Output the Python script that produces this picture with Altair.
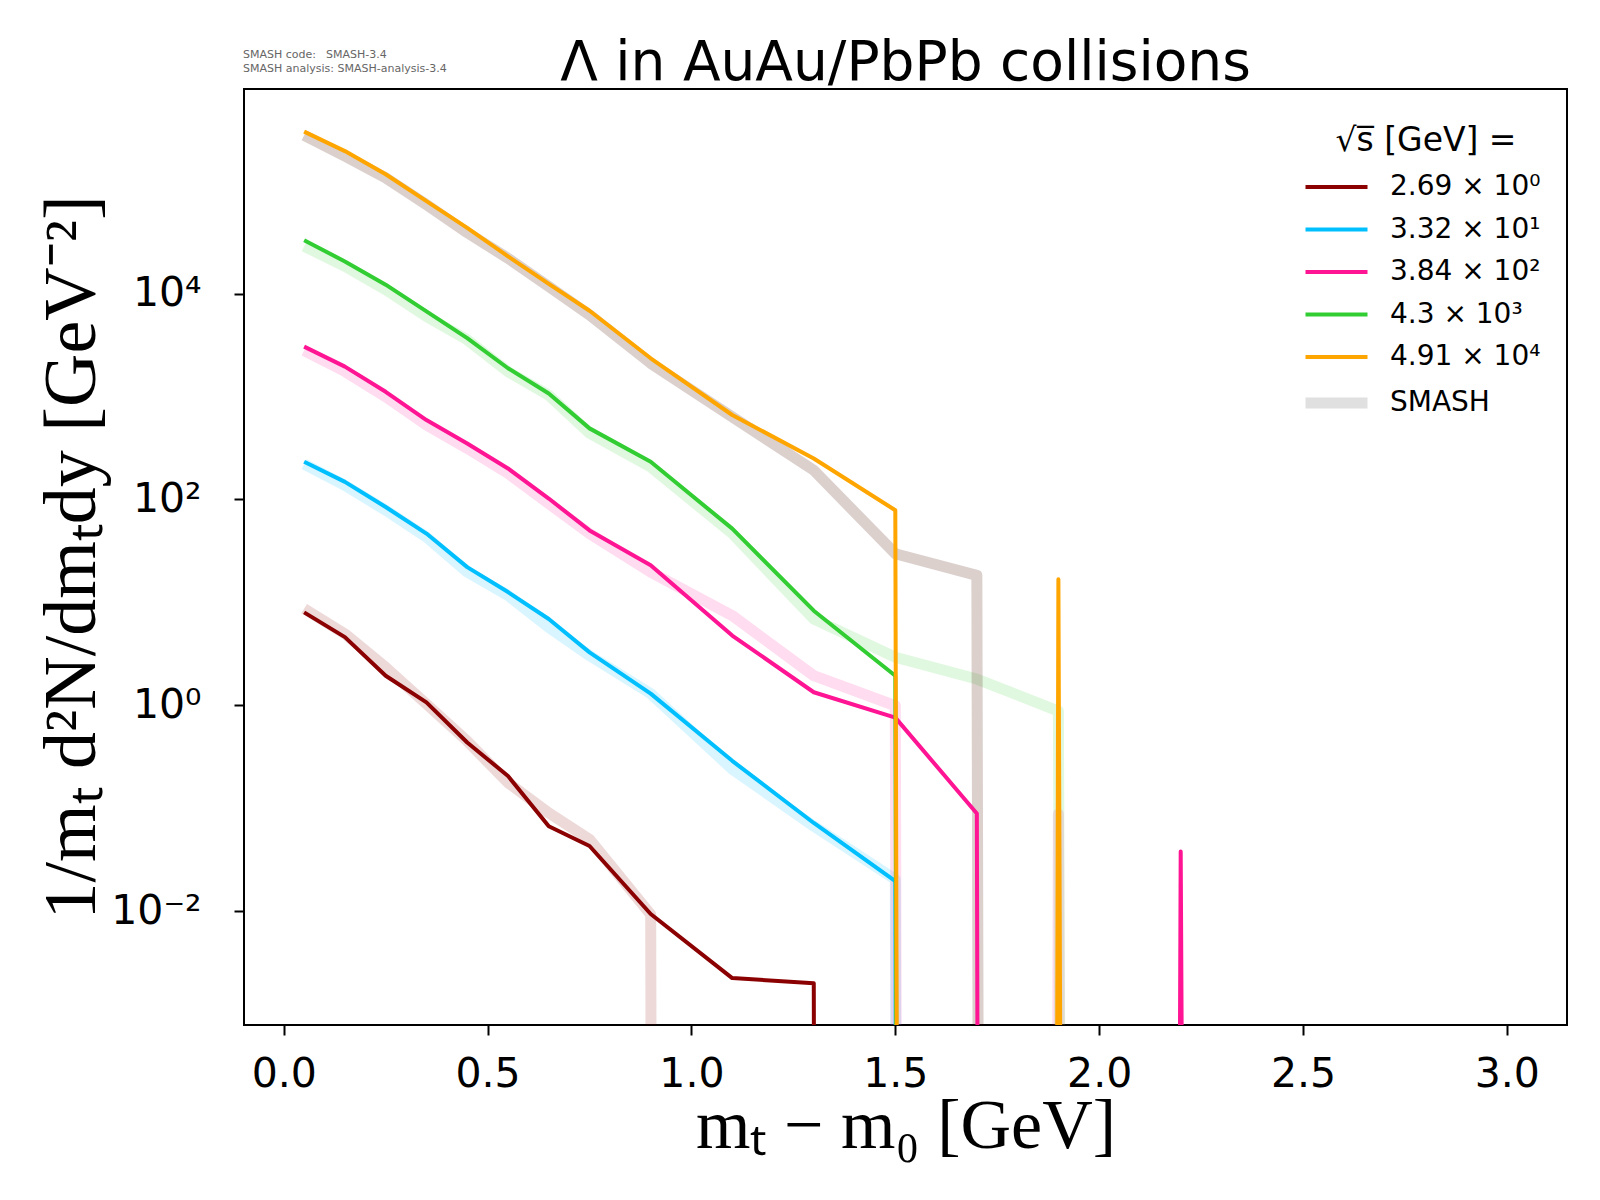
import altair as alt
import pandas as pd

# ---- data ----
x_bins = [0.05, 0.15, 0.25, 0.35, 0.45, 0.55, 0.65, 0.75, 0.9, 1.1, 1.3, 1.5, 1.7, 1.9, 2.2, 2.6, 3.0]

labels = ["2.69 × 10⁰", "3.32 × 10¹", "3.84 × 10²", "4.3 × 10³", "4.91 × 10⁴"]
colors = ["#8b0000", "#00bfff", "#ff1493", "#32cd32", "#ffa500"]
smash_colors = ["#8b0000", "#00bfff", "#ff1493", "#32cd32", "#4b1400"]
smash_alpha = [0.15, 0.15, 0.15, 0.15, 0.2]

main_2p69 = [8.0, 4.6, 1.94, 1.07, 0.435, 0.206, 0.067, 0.043, 0.0094, 0.00224, 0.0020, 0, 0, 0, 0, 0, 0]
main_33p2 = [232, 148, 84.5, 46.6, 22, 12.6, 6.9, 3.27, 1.3, 0.289, 0.072, 0.0196, 0, 0, 0, 0, 0]
main_384 = [3050, 1950, 1110, 590, 350, 200, 102, 50, 22.9, 4.76, 1.34, 0.76, 0.089, 0, 0.038, 0, 0]
main_4300 = [32900, 20500, 12200, 6700, 3690, 1880, 1070, 490, 232, 52, 8.3, 1.94, 0, 0, 0, 0, 0]
main_49100 = [374000, 242000, 144000, 79000, 43500, 23000, 12400, 6800, 2350, 661, 250, 78.5, 0, 16.8, 0, 0, 0]

smash_2p69 = [8.7, 4.95, 2.34, 1.03, 0.45, 0.177, 0.09, 0.05, 0.0093, 0, 0, 0, 0, 0, 0, 0, 0]
smash_33p2 = [220, 137, 78.5, 43, 19.7, 11.7, 5.7, 3.04, 1.3, 0.24, 0.067, 0.0204, 0, 0, 0, 0, 0]
smash_384 = [2790, 1750, 995, 528, 313, 179, 91, 46.6, 19.7, 7.45, 1.94, 0.99, 0, 0.088, 0, 0, 0]
smash_4300 = [28800, 18400, 10900, 5980, 3550, 1740, 1030, 439, 207, 46.6, 6.9, 2.93, 1.80, 0.88, 0, 0, 0]
smash_49100 = [344000, 216000, 133000, 73000, 39000, 22000, 11700, 6200, 2100, 635, 192, 29.7, 18.3, 0, 0, 0, 0]

main_vals = [main_2p69, main_33p2, main_384, main_4300, main_49100]
smash_vals = [smash_2p69, smash_33p2, smash_384, smash_4300, smash_49100]

title_text = "Λ in AuAu/PbPb collisions"
note_lines = ["SMASH code:", "SMASH-3.4", "SMASH analysis: SMASH-analysis-3.4"]

rows = []
for i in range(5):
    for xv, yv in zip(x_bins, main_vals[i]):
        rows.append({"x": xv, "y": yv, "series": i, "kind": "main", "label": labels[i]})
    for xv, yv in zip(x_bins, smash_vals[i]):
        rows.append({"x": xv, "y": yv, "series": i, "kind": "smash", "label": labels[i]})
df = pd.DataFrame(rows)

legend_domain = labels + ["SMASH"]
legend_colors = colors + ["#e0e0e0"]
legend_widths = [4, 4, 4, 4, 4, 11]

W, H = 1323, 936

xenc = alt.X(
    "x:Q",
    scale=alt.Scale(domain=[-0.0975, 3.1475], nice=False, zero=False),
    axis=alt.Axis(
        values=[0.0, 0.5, 1.0, 1.5, 2.0, 2.5, 3.0],
        format=".1f",
        title="mₜ − m₀ [GeV]",
        titleFont="Liberation Serif",
        titleFontSize=70,
        titleFontWeight="normal",
        titleY=122,
        titleBaseline="alphabetic",
        labelFontSize=41,
        labelPadding=19,
        grid=False,
    ),
)
yenc = alt.Y(
    "yp:Q",
    scale=alt.Scale(type="log", domain=[7.85e-4, 9.7e5], nice=False),
    axis=alt.Axis(
        values=[1e-2, 1, 1e2, 1e4],
        labelExpr="round(log(datum.value)/LN10) == -2 ? '10⁻²' : round(log(datum.value)/LN10) == 0 ? '10⁰' : round(log(datum.value)/LN10) == 2 ? '10²' : '10⁴'",
        title="1/mₜ d²N/dmₜdy [GeV⁻²]",
        titleFont="Liberation Serif",
        titleFontSize=74,
        titleFontWeight="normal",
        titleX=-150,
        titleBaseline="alphabetic",
        titleAngle=270,
        labelFontSize=41,
        labelPadding=33,
        grid=False,
    ),
)

base = alt.Chart(df).transform_calculate(yp="datum.y > 0 ? datum.y : 1e-300")

layers = []
for i in range(5):
    layers.append(
        base.transform_filter(f"datum.series == {i} && datum.kind == 'smash'")
        .mark_line(clip=True, strokeWidth=11, strokeJoin="round")
        .encode(x=xenc, y=yenc, color=alt.value(smash_colors[i]), opacity=alt.value(smash_alpha[i]))
    )

legend = alt.Legend(
    title="√s̅ [GeV] =",
    orient="none",
    legendX=1067,
    legendY=36,
    titleFont="DejaVu Sans",
    titleFontSize=33,
    titleFontWeight="normal",
    titleAnchor="middle",
    titlePadding=7,
    titleLimit=500,
    labelFont="DejaVu Sans",
    labelFontSize=28,
    labelLimit=500,
    labelOffset=28,
    symbolType="M-1.55,0H1.55",
    symbolSize=1600,
    rowPadding=6.5,
    padding=0,
)

for i in range(5):
    layers.append(
        base.transform_filter(f"datum.series == {i} && datum.kind == 'main'")
        .mark_line(clip=True, strokeJoin="round")
        .encode(
            x=xenc,
            y=yenc,
            color=alt.Color("label:N", scale=alt.Scale(domain=legend_domain, range=legend_colors), legend=legend),
            strokeWidth=alt.StrokeWidth(
                "label:N",
                scale=alt.Scale(type="ordinal", domain=legend_domain, range=legend_widths),
                legend=legend,
            ),
        )
    )

# annotation texts (title and SMASH version note)
for txt, xx, yy, fs, col, al in [
    (note_lines[0], -1, -31, 11, "#666666", "left"),
    (note_lines[1], 82, -31, 11, "#666666", "left"),
    (note_lines[2], -1, -17, 11, "#666666", "left"),
    (title_text, W / 2, -9, 55, "black", "center"),
]:
    layers.append(
        alt.Chart(pd.DataFrame({"t": [txt]}))
        .mark_text(align=al, baseline="alphabetic", fontSize=fs, font="DejaVu Sans", color=col)
        .encode(text="t:N", x=alt.value(xx), y=alt.value(yy))
    )

chart = (
    alt.layer(*layers)
    .properties(
        width=W,
        height=H,
        autosize=alt.AutoSizeParams(type="none"),
        padding={"left": 236, "top": 81, "right": 25, "bottom": 165},
    )
    .configure_view(stroke="black", strokeWidth=2)
    .configure_axis(
        domain=False,
        tickColor="black",
        tickWidth=2,
        tickSize=10,
        labelColor="black",
        titleColor="black",
        labelFont="DejaVu Sans",
    )
)

chart.save("out.html", embed_options={"renderer": "svg", "actions": False})
